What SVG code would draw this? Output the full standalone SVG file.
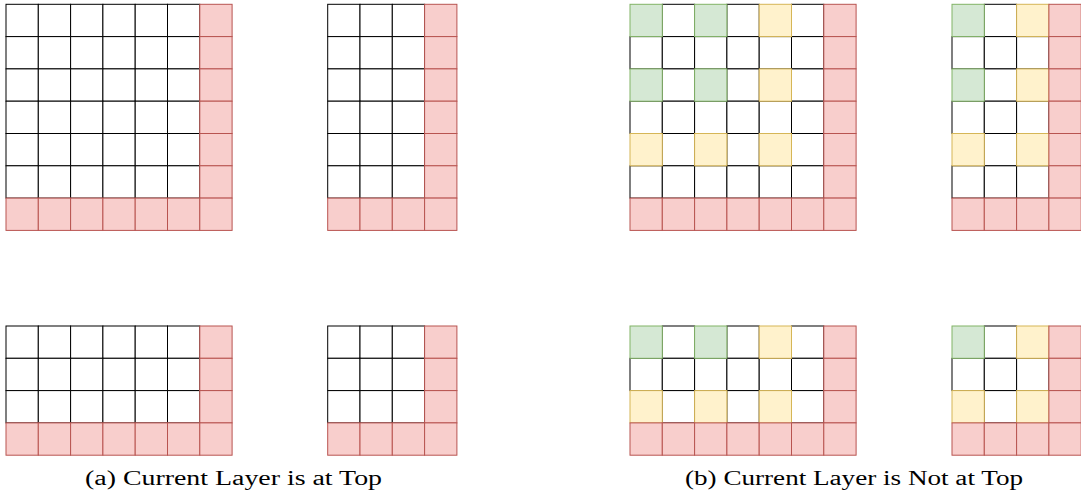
<svg xmlns="http://www.w3.org/2000/svg" xmlns:xlink="http://www.w3.org/1999/xlink" width="1081" height="502" viewBox="0 0 1081 502">
<style>
.w{fill:#ffffff;stroke:#000000;stroke-width:1}
.r{fill:#f8cecc;stroke:#b85450;stroke-width:1}
.g{fill:#d5e8d4;stroke:#82b366;stroke-width:1}
.y{fill:#fff2cc;stroke:#d6b656;stroke-width:1}
.cap{font-family:"Liberation Serif","Times New Roman",serif;font-size:20px;fill:#000;text-anchor:middle}
</style>
<defs><rect id="c" width="32.3" height="32.3"/></defs>
<rect width="1081" height="502" fill="#ffffff"/>

<g id="a-top-wide" transform="translate(6,4.3)">
<use href="#c" x="0" y="0" class="w"/><use href="#c" x="32.3" y="0" class="w"/><use href="#c" x="64.6" y="0" class="w"/><use href="#c" x="96.9" y="0" class="w"/><use href="#c" x="129.2" y="0" class="w"/><use href="#c" x="161.5" y="0" class="w"/>
<use href="#c" x="0" y="32.3" class="w"/><use href="#c" x="32.3" y="32.3" class="w"/><use href="#c" x="64.6" y="32.3" class="w"/><use href="#c" x="96.9" y="32.3" class="w"/><use href="#c" x="129.2" y="32.3" class="w"/><use href="#c" x="161.5" y="32.3" class="w"/>
<use href="#c" x="0" y="64.6" class="w"/><use href="#c" x="32.3" y="64.6" class="w"/><use href="#c" x="64.6" y="64.6" class="w"/><use href="#c" x="96.9" y="64.6" class="w"/><use href="#c" x="129.2" y="64.6" class="w"/><use href="#c" x="161.5" y="64.6" class="w"/>
<use href="#c" x="0" y="96.9" class="w"/><use href="#c" x="32.3" y="96.9" class="w"/><use href="#c" x="64.6" y="96.9" class="w"/><use href="#c" x="96.9" y="96.9" class="w"/><use href="#c" x="129.2" y="96.9" class="w"/><use href="#c" x="161.5" y="96.9" class="w"/>
<use href="#c" x="0" y="129.2" class="w"/><use href="#c" x="32.3" y="129.2" class="w"/><use href="#c" x="64.6" y="129.2" class="w"/><use href="#c" x="96.9" y="129.2" class="w"/><use href="#c" x="129.2" y="129.2" class="w"/><use href="#c" x="161.5" y="129.2" class="w"/>
<use href="#c" x="0" y="161.5" class="w"/><use href="#c" x="32.3" y="161.5" class="w"/><use href="#c" x="64.6" y="161.5" class="w"/><use href="#c" x="96.9" y="161.5" class="w"/><use href="#c" x="129.2" y="161.5" class="w"/><use href="#c" x="161.5" y="161.5" class="w"/>
<use href="#c" x="193.8" y="0" class="r"/><use href="#c" x="193.8" y="32.3" class="r"/><use href="#c" x="193.8" y="64.6" class="r"/><use href="#c" x="193.8" y="96.9" class="r"/><use href="#c" x="193.8" y="129.2" class="r"/><use href="#c" x="193.8" y="161.5" class="r"/>
<use href="#c" x="0" y="193.8" class="r"/><use href="#c" x="32.3" y="193.8" class="r"/><use href="#c" x="64.6" y="193.8" class="r"/><use href="#c" x="96.9" y="193.8" class="r"/><use href="#c" x="129.2" y="193.8" class="r"/><use href="#c" x="161.5" y="193.8" class="r"/><use href="#c" x="193.8" y="193.8" class="r"/>
</g>

<g id="a-top-narrow" transform="translate(327.7,4.3)">
<use href="#c" x="0" y="0" class="w"/><use href="#c" x="32.3" y="0" class="w"/><use href="#c" x="64.6" y="0" class="w"/>
<use href="#c" x="0" y="32.3" class="w"/><use href="#c" x="32.3" y="32.3" class="w"/><use href="#c" x="64.6" y="32.3" class="w"/>
<use href="#c" x="0" y="64.6" class="w"/><use href="#c" x="32.3" y="64.6" class="w"/><use href="#c" x="64.6" y="64.6" class="w"/>
<use href="#c" x="0" y="96.9" class="w"/><use href="#c" x="32.3" y="96.9" class="w"/><use href="#c" x="64.6" y="96.9" class="w"/>
<use href="#c" x="0" y="129.2" class="w"/><use href="#c" x="32.3" y="129.2" class="w"/><use href="#c" x="64.6" y="129.2" class="w"/>
<use href="#c" x="0" y="161.5" class="w"/><use href="#c" x="32.3" y="161.5" class="w"/><use href="#c" x="64.6" y="161.5" class="w"/>
<use href="#c" x="96.9" y="0" class="r"/><use href="#c" x="96.9" y="32.3" class="r"/><use href="#c" x="96.9" y="64.6" class="r"/><use href="#c" x="96.9" y="96.9" class="r"/><use href="#c" x="96.9" y="129.2" class="r"/><use href="#c" x="96.9" y="161.5" class="r"/>
<use href="#c" x="0" y="193.8" class="r"/><use href="#c" x="32.3" y="193.8" class="r"/><use href="#c" x="64.6" y="193.8" class="r"/><use href="#c" x="96.9" y="193.8" class="r"/>
</g>

<g id="a-bottom-wide" transform="translate(6,326)">
<use href="#c" x="0" y="0" class="w"/><use href="#c" x="32.3" y="0" class="w"/><use href="#c" x="64.6" y="0" class="w"/><use href="#c" x="96.9" y="0" class="w"/><use href="#c" x="129.2" y="0" class="w"/><use href="#c" x="161.5" y="0" class="w"/>
<use href="#c" x="0" y="32.3" class="w"/><use href="#c" x="32.3" y="32.3" class="w"/><use href="#c" x="64.6" y="32.3" class="w"/><use href="#c" x="96.9" y="32.3" class="w"/><use href="#c" x="129.2" y="32.3" class="w"/><use href="#c" x="161.5" y="32.3" class="w"/>
<use href="#c" x="0" y="64.6" class="w"/><use href="#c" x="32.3" y="64.6" class="w"/><use href="#c" x="64.6" y="64.6" class="w"/><use href="#c" x="96.9" y="64.6" class="w"/><use href="#c" x="129.2" y="64.6" class="w"/><use href="#c" x="161.5" y="64.6" class="w"/>
<use href="#c" x="193.8" y="0" class="r"/><use href="#c" x="193.8" y="32.3" class="r"/><use href="#c" x="193.8" y="64.6" class="r"/>
<use href="#c" x="0" y="96.9" class="r"/><use href="#c" x="32.3" y="96.9" class="r"/><use href="#c" x="64.6" y="96.9" class="r"/><use href="#c" x="96.9" y="96.9" class="r"/><use href="#c" x="129.2" y="96.9" class="r"/><use href="#c" x="161.5" y="96.9" class="r"/><use href="#c" x="193.8" y="96.9" class="r"/>
</g>

<g id="a-bottom-narrow" transform="translate(327.7,326)">
<use href="#c" x="0" y="0" class="w"/><use href="#c" x="32.3" y="0" class="w"/><use href="#c" x="64.6" y="0" class="w"/>
<use href="#c" x="0" y="32.3" class="w"/><use href="#c" x="32.3" y="32.3" class="w"/><use href="#c" x="64.6" y="32.3" class="w"/>
<use href="#c" x="0" y="64.6" class="w"/><use href="#c" x="32.3" y="64.6" class="w"/><use href="#c" x="64.6" y="64.6" class="w"/>
<use href="#c" x="96.9" y="0" class="r"/><use href="#c" x="96.9" y="32.3" class="r"/><use href="#c" x="96.9" y="64.6" class="r"/>
<use href="#c" x="0" y="96.9" class="r"/><use href="#c" x="32.3" y="96.9" class="r"/><use href="#c" x="64.6" y="96.9" class="r"/><use href="#c" x="96.9" y="96.9" class="r"/>
</g>

<g id="b-top-wide" transform="translate(630,4.3)">
<use href="#c" x="32.3" y="0" class="w"/><use href="#c" x="96.9" y="0" class="w"/><use href="#c" x="161.5" y="0" class="w"/>
<use href="#c" x="0" y="32.3" class="w"/><use href="#c" x="32.3" y="32.3" class="w"/><use href="#c" x="64.6" y="32.3" class="w"/><use href="#c" x="96.9" y="32.3" class="w"/><use href="#c" x="129.2" y="32.3" class="w"/><use href="#c" x="161.5" y="32.3" class="w"/>
<use href="#c" x="32.3" y="64.6" class="w"/><use href="#c" x="96.9" y="64.6" class="w"/><use href="#c" x="161.5" y="64.6" class="w"/>
<use href="#c" x="0" y="96.9" class="w"/><use href="#c" x="32.3" y="96.9" class="w"/><use href="#c" x="64.6" y="96.9" class="w"/><use href="#c" x="96.9" y="96.9" class="w"/><use href="#c" x="129.2" y="96.9" class="w"/><use href="#c" x="161.5" y="96.9" class="w"/>
<use href="#c" x="32.3" y="129.2" class="w"/><use href="#c" x="96.9" y="129.2" class="w"/><use href="#c" x="161.5" y="129.2" class="w"/>
<use href="#c" x="0" y="161.5" class="w"/><use href="#c" x="32.3" y="161.5" class="w"/><use href="#c" x="64.6" y="161.5" class="w"/><use href="#c" x="96.9" y="161.5" class="w"/><use href="#c" x="129.2" y="161.5" class="w"/><use href="#c" x="161.5" y="161.5" class="w"/>
<use href="#c" x="0" y="0" class="g"/><use href="#c" x="64.6" y="0" class="g"/><use href="#c" x="129.2" y="0" class="y"/>
<use href="#c" x="0" y="64.6" class="g"/><use href="#c" x="64.6" y="64.6" class="g"/><use href="#c" x="129.2" y="64.6" class="y"/>
<use href="#c" x="0" y="129.2" class="y"/><use href="#c" x="64.6" y="129.2" class="y"/><use href="#c" x="129.2" y="129.2" class="y"/>
<use href="#c" x="193.8" y="0" class="r"/><use href="#c" x="193.8" y="32.3" class="r"/><use href="#c" x="193.8" y="64.6" class="r"/><use href="#c" x="193.8" y="96.9" class="r"/><use href="#c" x="193.8" y="129.2" class="r"/><use href="#c" x="193.8" y="161.5" class="r"/>
<use href="#c" x="0" y="193.8" class="r"/><use href="#c" x="32.3" y="193.8" class="r"/><use href="#c" x="64.6" y="193.8" class="r"/><use href="#c" x="96.9" y="193.8" class="r"/><use href="#c" x="129.2" y="193.8" class="r"/><use href="#c" x="161.5" y="193.8" class="r"/><use href="#c" x="193.8" y="193.8" class="r"/>
</g>

<g id="b-top-narrow" transform="translate(952,4.3)">
<use href="#c" x="32.3" y="0" class="w"/>
<use href="#c" x="0" y="32.3" class="w"/><use href="#c" x="32.3" y="32.3" class="w"/><use href="#c" x="64.6" y="32.3" class="w"/>
<use href="#c" x="32.3" y="64.6" class="w"/>
<use href="#c" x="0" y="96.9" class="w"/><use href="#c" x="32.3" y="96.9" class="w"/><use href="#c" x="64.6" y="96.9" class="w"/>
<use href="#c" x="32.3" y="129.2" class="w"/>
<use href="#c" x="0" y="161.5" class="w"/><use href="#c" x="32.3" y="161.5" class="w"/><use href="#c" x="64.6" y="161.5" class="w"/>
<use href="#c" x="0" y="0" class="g"/><use href="#c" x="64.6" y="0" class="y"/>
<use href="#c" x="0" y="64.6" class="g"/><use href="#c" x="64.6" y="64.6" class="y"/>
<use href="#c" x="0" y="129.2" class="y"/><use href="#c" x="64.6" y="129.2" class="y"/>
<use href="#c" x="96.9" y="0" class="r"/><use href="#c" x="96.9" y="32.3" class="r"/><use href="#c" x="96.9" y="64.6" class="r"/><use href="#c" x="96.9" y="96.9" class="r"/><use href="#c" x="96.9" y="129.2" class="r"/><use href="#c" x="96.9" y="161.5" class="r"/>
<use href="#c" x="0" y="193.8" class="r"/><use href="#c" x="32.3" y="193.8" class="r"/><use href="#c" x="64.6" y="193.8" class="r"/><use href="#c" x="96.9" y="193.8" class="r"/>
</g>

<g id="b-bottom-wide" transform="translate(630,326)">
<use href="#c" x="32.3" y="0" class="w"/><use href="#c" x="96.9" y="0" class="w"/><use href="#c" x="161.5" y="0" class="w"/>
<use href="#c" x="0" y="32.3" class="w"/><use href="#c" x="32.3" y="32.3" class="w"/><use href="#c" x="64.6" y="32.3" class="w"/><use href="#c" x="96.9" y="32.3" class="w"/><use href="#c" x="129.2" y="32.3" class="w"/><use href="#c" x="161.5" y="32.3" class="w"/>
<use href="#c" x="32.3" y="64.6" class="w"/><use href="#c" x="96.9" y="64.6" class="w"/><use href="#c" x="161.5" y="64.6" class="w"/>
<use href="#c" x="0" y="0" class="g"/><use href="#c" x="64.6" y="0" class="g"/><use href="#c" x="129.2" y="0" class="y"/>
<use href="#c" x="0" y="64.6" class="y"/><use href="#c" x="64.6" y="64.6" class="y"/><use href="#c" x="129.2" y="64.6" class="y"/>
<use href="#c" x="193.8" y="0" class="r"/><use href="#c" x="193.8" y="32.3" class="r"/><use href="#c" x="193.8" y="64.6" class="r"/>
<use href="#c" x="0" y="96.9" class="r"/><use href="#c" x="32.3" y="96.9" class="r"/><use href="#c" x="64.6" y="96.9" class="r"/><use href="#c" x="96.9" y="96.9" class="r"/><use href="#c" x="129.2" y="96.9" class="r"/><use href="#c" x="161.5" y="96.9" class="r"/><use href="#c" x="193.8" y="96.9" class="r"/>
</g>

<g id="b-bottom-narrow" transform="translate(952,326)">
<use href="#c" x="32.3" y="0" class="w"/>
<use href="#c" x="0" y="32.3" class="w"/><use href="#c" x="32.3" y="32.3" class="w"/><use href="#c" x="64.6" y="32.3" class="w"/>
<use href="#c" x="32.3" y="64.6" class="w"/>
<use href="#c" x="0" y="0" class="g"/><use href="#c" x="64.6" y="0" class="y"/>
<use href="#c" x="0" y="64.6" class="y"/><use href="#c" x="64.6" y="64.6" class="y"/>
<use href="#c" x="96.9" y="0" class="r"/><use href="#c" x="96.9" y="32.3" class="r"/><use href="#c" x="96.9" y="64.6" class="r"/>
<use href="#c" x="0" y="96.9" class="r"/><use href="#c" x="32.3" y="96.9" class="r"/><use href="#c" x="64.6" y="96.9" class="r"/><use href="#c" x="96.9" y="96.9" class="r"/>
</g>

<g id="captions">
<text class="cap" x="233.5" y="485" textLength="297" lengthAdjust="spacingAndGlyphs">(a) Current Layer is at Top</text>
<text class="cap" x="854" y="485" textLength="338" lengthAdjust="spacingAndGlyphs">(b) Current Layer is Not at Top</text>
</g>
</svg>
